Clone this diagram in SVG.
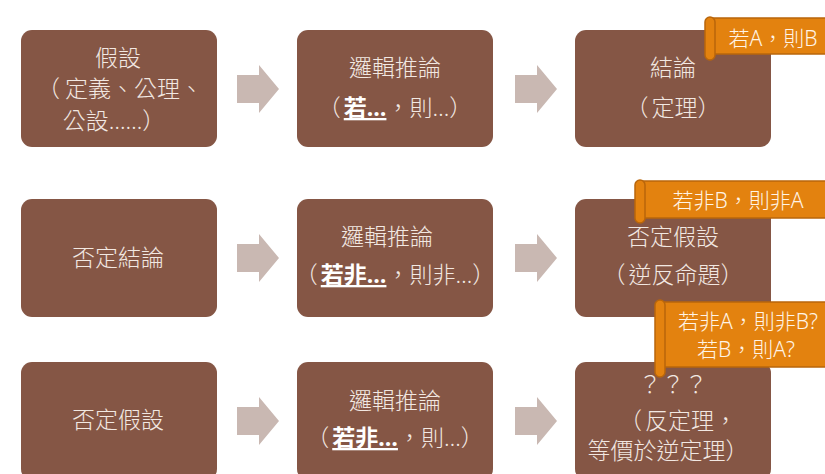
<svg xmlns="http://www.w3.org/2000/svg" width="825" height="474" viewBox="0 0 825 474" lang="zh-TW" xml:lang="zh-TW">
<style>
.box{fill:#855645;}
.t{font-family:"Noto Sans","Noto Sans CJK TC","Noto Sans CJK SC",sans-serif;fill:#F2E8E2;font-size:23px;text-anchor:middle;font-weight:300;}
.b{font-weight:700;fill:#FFFFFF;text-decoration:underline;}
.arr{fill:#C9B8B2;}
.ban{fill:#E3820F;stroke:#B9660B;stroke-width:1.5;}
.roll{fill:#E3820F;stroke:#B9660B;stroke-width:1.5;}
.st{font-family:"Noto Sans","Noto Sans CJK TC","Noto Sans CJK SC",sans-serif;fill:#FFF4E6;font-size:21px;text-anchor:middle;font-weight:300;}
</style>
<defs>
<path id="arrow" d="M0,-14 H22 V-24 L42,0 L22,24 V14 H0 Z"/>
</defs>
<g id="connectors">
<use href="#arrow" class="arr" x="237" y="89"/>
<use href="#arrow" class="arr" x="515" y="89"/>
<use href="#arrow" class="arr" x="237" y="258"/>
<use href="#arrow" class="arr" x="515" y="258"/>
<use href="#arrow" class="arr" x="237" y="421"/>
<use href="#arrow" class="arr" x="515" y="421"/>
</g>
<g id="n1">
<rect class="box" x="21" y="30" width="196" height="117" rx="11"/>
<text class="t" x="118" y="66">假設</text>
<text class="t" x="120" y="97">（<tspan dx="5">定義、公理、</tspan></text>
<text class="t" x="114" y="129">公設……）</text>
</g>
<g id="n2">
<rect class="box" x="297" y="30" width="196" height="117" rx="11"/>
<text class="t" x="395" y="76" font-size="24">邏輯推論</text>
<text class="t" x="395" y="116">（<tspan class="b" dx="3">若…</tspan>，則…）</text>
</g>
<g id="n3">
<rect class="box" x="575" y="30" width="196" height="117" rx="11"/>
<text class="t" x="673" y="76">結論</text>
<text class="t" x="673" y="116">（<tspan dx="3">定理</tspan>）</text>
</g>
<g id="n4">
<rect class="box" x="21" y="199" width="196" height="118" rx="11"/>
<text class="t" x="118" y="266">否定結論</text>
</g>
<g id="n5">
<rect class="box" x="297" y="199" width="196" height="118" rx="11"/>
<text class="t" x="387" y="245">邏輯推論</text>
<text class="t" x="395" y="283">（<tspan class="b" dx="3">若非…</tspan>，則非…）</text>
</g>
<g id="n6">
<rect class="box" x="575" y="199" width="196" height="118" rx="11"/>
<text class="t" x="673" y="245">否定假設</text>
<text class="t" x="673" y="283">（<tspan dx="3">逆反命題</tspan>）</text>
</g>
<g id="n7">
<rect class="box" x="21" y="362" width="196" height="118" rx="11"/>
<text class="t" x="118" y="428">否定假設</text>
</g>
<g id="n8">
<rect class="box" x="297" y="362" width="196" height="118" rx="11"/>
<text class="t" x="395" y="409">邏輯推論</text>
<text class="t" x="395" y="446">（<tspan class="b" dx="3">若非…</tspan>，則…）</text>
</g>
<g id="n9">
<rect class="box" x="575" y="362" width="196" height="118" rx="11"/>
<text class="t" x="673" y="393">？？？</text>
<text class="t" x="678" y="429" font-size="20">（<tspan dx="3">反定理，</tspan></text>
<text class="t" x="668" y="459" font-size="20">等價於逆定理）</text>
</g>
<g id="s1">
<rect class="ban" x="710" y="18" width="125" height="36"/>
<rect class="roll" x="705" y="17" width="10" height="43" rx="5"/>
<text class="st" x="773" y="46">若A，則B</text>
</g>
<g id="s2">
<rect class="ban" x="640" y="181" width="195" height="37"/>
<rect class="roll" x="635" y="180" width="10" height="43" rx="5"/>
<text class="st" x="738" y="208">若非B，則非A</text>
</g>
<g id="s3">
<rect class="ban" x="660" y="302" width="175" height="65"/>
<rect class="roll" x="655" y="300" width="10" height="77" rx="5"/>
<text class="st" x="748" y="329">若非A，則非B?</text>
<text class="st" x="746" y="357">若B，則A?</text>
</g>
</svg>
